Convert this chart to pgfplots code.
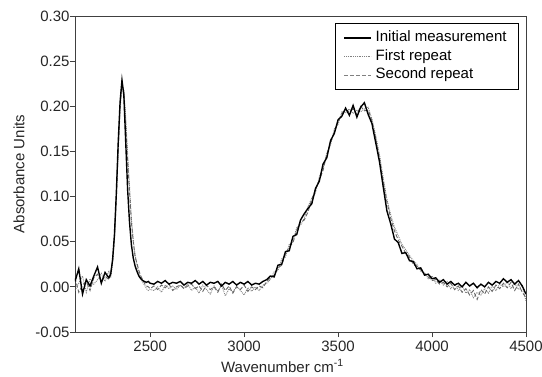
\documentclass[border=0pt]{standalone}
\usepackage{pgfplots}
\pgfplotsset{compat=1.18}
\usepackage{pgfplotstable}
\usepackage{fontspec}
\setmainfont{Liberation Sans}

\pgfplotstableread{
x A B C
2100 0.006 -0.004 0.010
2120 0.020 0.004 -0.006
2140 -0.008 0.012 0.002
2160 0.008 -0.006 0.006
2180 0.001 0.009 -0.004
2200 0.012 0.003 0.010
2220 0.022 0.008 0.014
2240 0.004 0.015 0.006
2260 0.016 0.006 0.012
2280 0.010 0.018 0.008
2290 0.014 0.010 0.016
2300 0.030 0.026 0.028
2310 0.058 0.052 0.055
2320 0.104 0.096 0.100
2330 0.160 0.150 0.155
2340 0.205 0.196 0.200
2350 0.229 0.222 0.226
2360 0.212 0.218 0.215
2370 0.160 0.188 0.180
2380 0.108 0.148 0.140
2390 0.072 0.112 0.106
2400 0.047 0.076 0.072
2410 0.032 0.052 0.050
2420 0.023 0.035 0.033
2430 0.017 0.024 0.026
2440 0.012 0.015 0.018
2450 0.009 0.010 0.012
2460 0.007 0.005 0.008
2470 0.006 0.002 0.004
2480 0.005 -0.002 0.001
2490 0.006 -0.004 0.000
2500 0.004 -0.003 -0.002
2520 0.003 -0.004 0.001
2540 0.006 0.000 -0.003
2560 0.004 -0.006 0.002
2580 0.007 0.002 -0.001
2600 0.003 -0.002 0.003
2620 0.005 0.001 -0.004
2640 0.004 -0.003 0.000
2660 0.006 0.002 0.002
2680 0.002 -0.001 -0.002
2700 0.005 0.003 0.001
2720 0.004 -0.004 0.003
2740 0.007 0.000 -0.002
2760 0.003 -0.007 0.001
2780 0.006 0.002 -0.005
2800 0.002 -0.003 0.002
2820 0.005 -0.008 -0.003
2840 0.004 0.001 0.000
2860 0.006 -0.005 -0.006
2880 0.001 0.002 0.003
2900 0.005 -0.010 -0.004
2920 0.003 -0.002 0.001
2940 0.006 -0.006 -0.007
2960 0.002 0.001 0.000
2980 0.005 -0.004 -0.003
3000 0.003 -0.009 0.002
3020 0.006 -0.001 -0.005
3040 0.002 -0.005 0.000
3060 0.004 0.000 -0.003
3080 0.003 -0.004 0.001
3100 0.006 0.002 -0.001
3120 0.008 0.004 0.006
3140 0.012 0.008 0.010
3160 0.011 0.017 0.013
3180 0.024 0.018 0.021
3200 0.025 0.031 0.024
3220 0.039 0.033 0.037
3240 0.040 0.047 0.044
3260 0.056 0.050 0.049
3280 0.058 0.066 0.063
3300 0.074 0.068 0.072
3320 0.081 0.076 0.074
3340 0.087 0.089 0.083
3360 0.092 0.098 0.097
3380 0.109 0.104 0.108
3400 0.117 0.122 0.118
3420 0.136 0.131 0.129
3440 0.143 0.148 0.147
3460 0.162 0.157 0.160
3480 0.170 0.175 0.171
3500 0.185 0.180 0.183
3520 0.189 0.194 0.192
3540 0.198 0.193 0.196
3560 0.190 0.197 0.194
3580 0.201 0.192 0.197
3600 0.188 0.196 0.191
3620 0.199 0.194 0.200
3640 0.204 0.197 0.195
3660 0.191 0.199 0.196
3680 0.181 0.186 0.184
3700 0.160 0.168 0.165
3720 0.139 0.147 0.143
3740 0.111 0.121 0.117
3760 0.084 0.097 0.094
3780 0.070 0.080 0.076
3800 0.053 0.066 0.062
3820 0.049 0.057 0.052
3840 0.037 0.047 0.045
3860 0.038 0.041 0.037
3880 0.029 0.035 0.033
3900 0.028 0.029 0.025
3920 0.020 0.025 0.023
3940 0.021 0.017 0.019
3960 0.013 0.016 0.014
3980 0.014 0.009 0.011
4000 0.009 0.012 0.007
4020 0.010 0.004 0.008
4040 0.005 0.008 0.003
4060 0.008 0.002 0.005
4080 0.003 0.006 0.000
4100 0.006 -0.002 0.004
4120 0.002 0.003 -0.003
4140 0.004 -0.004 0.001
4160 0.000 0.001 -0.006
4180 0.005 -0.007 -0.002
4200 0.001 -0.003 -0.009
4220 0.004 -0.012 -0.004
4240 -0.001 -0.006 -0.014
4260 0.003 -0.009 -0.003
4280 0.000 -0.002 -0.008
4300 0.005 -0.007 0.000
4320 0.002 0.001 -0.005
4340 0.006 -0.004 0.002
4360 0.004 0.003 -0.002
4380 0.009 0.000 0.004
4400 0.005 0.006 -0.001
4420 0.008 -0.002 0.005
4440 0.003 0.004 -0.004
4460 0.007 -0.003 0.003
4480 0.001 0.002 -0.006
4500 -0.008 -0.016 -0.012
}\spectra

\begin{document}
\begin{tikzpicture}
\path[use as bounding box] (-75pt,-44pt) rectangle (467pt,332pt);
\begin{axis}[
  scale only axis,
  width=451pt, height=316pt,
  xmin=2100, xmax=4500, ymin=-0.05, ymax=0.30,
  xtick={2500,3000,3500,4000,4500},
  ytick={-0.05,0,0.05,0.10,0.15,0.20,0.25,0.30},
  xtick pos=left, ytick pos=left,
  tick align=outside,
  major tick length=5pt,
  axis line style={black!75, line width=0.8pt},
  every tick/.style={black!75, line width=0.8pt},
  /pgf/number format/assume math mode=true,
  scaled y ticks=false,
  scaled x ticks=false,
  xticklabel style={/pgf/number format/1000 sep={}},
  yticklabel style={/pgf/number format/fixed, /pgf/number format/fixed zerofill, /pgf/number format/precision=2, xshift=3pt},
  tick label style={font=\fontsize{15}{18}\selectfont, text=black!85},
  xlabel={Wavenumber cm\textsuperscript{-1}},
  ylabel={Absorbance Units},
  label style={font=\fontsize{15}{18}\selectfont, text=black!85},
  xlabel style={at={(axis description cs:0.46,0)}, anchor=base, yshift=-40pt},
  ylabel style={at={(axis description cs:-0.124,0.5)}, anchor=center},
  legend style={at={(1,1)}, anchor=north east, xshift=-7pt, yshift=-7pt,
    draw=black, line width=0.8pt, inner xsep=8pt, inner ysep=6pt,
    font=\fontsize{15}{18}\selectfont, row sep=1.5pt,
    nodes={inner xsep=4pt, inner ysep=1pt, text height=11.5pt, text depth=3.5pt}},
  legend cell align=left,
  legend image code/.code={\draw[#1] (0pt,0pt) -- (27pt,0pt);},
]
\addlegendimage{black, line width=1.2pt}
\addlegendentry{Initial measurement}
\addlegendimage{gray, line width=0.8pt, densely dotted}
\addlegendentry{First repeat}
\addlegendimage{gray, line width=0.8pt, dash pattern=on 4pt off 2pt}
\addlegendentry{Second repeat}
\addplot[gray, line width=0.9pt, densely dotted, forget plot] table[x=x, y=B] {\spectra};
\addplot[gray!80!black, line width=0.9pt, dash pattern=on 4pt off 2pt, forget plot] table[x=x, y=C] {\spectra};
\addplot[black, line width=1.4pt, forget plot] table[x=x, y=A] {\spectra};
\end{axis}
\end{tikzpicture}
\end{document}
